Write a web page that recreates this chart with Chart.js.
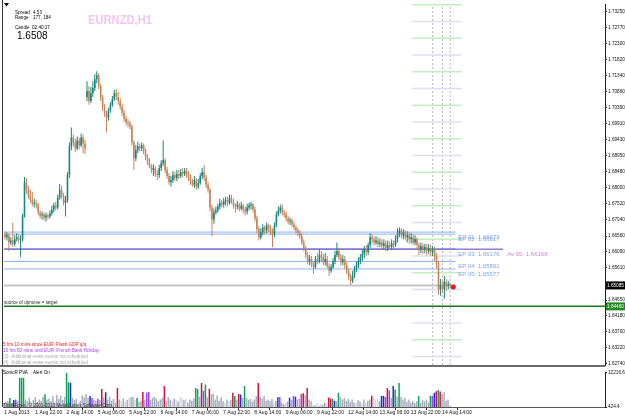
<!DOCTYPE html>
<html>
<head>
<meta charset="utf-8">
<script src="https://cdn.jsdelivr.net/npm/chart.js@4.4.1/dist/chart.umd.min.js"></script>
<style>
  body { margin:0; background:#fff; }
  #wrap { position:relative; width:625px; height:418px; overflow:hidden; background:#fff; }
  #cMain { position:absolute; left:0; top:0; }
  #cVol { position:absolute; left:0; top:369px; }
</style>
</head>
<body>
<div id="wrap">
  <canvas id="cMain" width="625" height="369"></canvas>
  <canvas id="cVol" width="625" height="49"></canvas>
</div>
<script>
// EURNZD H1, 1 Aug 06:00 .. 14 Aug 18:00 (one value per hourly bar)
const openP = [1.6661,1.6652,1.6658,1.6637,1.6643,1.6632,1.6646,1.6652,1.6643,1.6646,
1.6717,1.6817,1.6794,1.6776,1.6764,1.6752,1.6755,1.6750,1.6726,1.6717,
1.6720,1.6711,1.6717,1.6714,1.6723,1.6735,1.6747,1.6741,1.6770,1.6794,
1.6776,1.6755,1.6764,1.6838,1.6924,1.6950,1.6935,1.6918,1.6941,1.6927,
1.6950,1.6932,1.7071,1.7089,1.7059,1.7083,1.7098,1.7124,1.7136,1.7104,
1.7071,1.7042,1.7021,1.7009,1.7030,1.7048,1.7065,1.7083,1.7071,1.7059,
1.7042,1.7024,1.7006,1.6995,1.6992,1.6983,1.6935,1.6888,1.6912,1.6924,
1.6918,1.6927,1.6909,1.6891,1.6876,1.6865,1.6853,1.6859,1.6841,1.6838,
1.6859,1.6873,1.6882,1.6853,1.6835,1.6817,1.6823,1.6838,1.6829,1.6841,
1.6835,1.6847,1.6841,1.6850,1.6838,1.6832,1.6817,1.6809,1.6823,1.6803,
1.6814,1.6835,1.6847,1.6829,1.6809,1.6794,1.6741,1.6705,1.6726,1.6732,
1.6744,1.6755,1.6750,1.6761,1.6764,1.6755,1.6770,1.6758,1.6747,1.6744,
1.6750,1.6738,1.6747,1.6735,1.6729,1.6741,1.6747,1.6750,1.6735,1.6708,
1.6676,1.6652,1.6667,1.6682,1.6673,1.6688,1.6679,1.6667,1.6661,1.6688,
1.6720,1.6732,1.6741,1.6726,1.6720,1.6708,1.6699,1.6702,1.6691,1.6682,
1.6673,1.6664,1.6655,1.6637,1.6617,1.6599,1.6581,1.6587,1.6572,1.6563,
1.6587,1.6581,1.6599,1.6593,1.6578,1.6587,1.6566,1.6552,1.6563,1.6581,
1.6599,1.6611,1.6593,1.6578,1.6587,1.6569,1.6552,1.6534,1.6522,1.6540,
1.6558,1.6569,1.6581,1.6593,1.6602,1.6617,1.6608,1.6629,1.6652,1.6646,
1.6637,1.6643,1.6632,1.6637,1.6626,1.6634,1.6620,1.6629,1.6623,1.6634,
1.6629,1.6646,1.6661,1.6673,1.6658,1.6667,1.6652,1.6658,1.6646,1.6652,
1.6637,1.6646,1.6629,1.6617,1.6626,1.6617,1.6623,1.6611,1.6620,1.6608,
1.6614,1.6596,1.6572,1.6498,1.6510,1.6498,1.6519,1.6507,1.6513];
const highP = [1.6670,1.6667,1.6664,1.6652,1.6696,1.6658,1.6664,1.6661,1.6658,1.6723,
1.6832,1.6829,1.6806,1.6794,1.6788,1.6767,1.6764,1.6755,1.6732,1.6729,
1.6726,1.6726,1.6723,1.6732,1.6747,1.6755,1.6758,1.6779,1.6811,1.6806,
1.6785,1.6776,1.6847,1.6935,1.6980,1.6959,1.6947,1.6953,1.6950,1.6962,
1.6959,1.6944,1.7118,1.7104,1.7101,1.7118,1.7139,1.7148,1.7142,1.7109,
1.7077,1.7051,1.7030,1.7039,1.7056,1.7074,1.7092,1.7095,1.7086,1.7068,
1.7051,1.7033,1.7015,1.7006,1.7000,1.6989,1.6941,1.6927,1.6938,1.6932,
1.6935,1.6932,1.6918,1.6900,1.6888,1.6870,1.6870,1.6865,1.6853,1.6868,
1.6882,1.6941,1.6888,1.6862,1.6844,1.6835,1.6850,1.6847,1.6853,1.6853,
1.6856,1.6859,1.6859,1.6859,1.6850,1.6841,1.6826,1.6835,1.6829,1.6826,
1.6844,1.6859,1.6868,1.6838,1.6817,1.6800,1.6750,1.6738,1.6744,1.6752,
1.6767,1.6764,1.6770,1.6773,1.6773,1.6779,1.6779,1.6767,1.6755,1.6761,
1.6755,1.6758,1.6752,1.6744,1.6752,1.6755,1.6758,1.6755,1.6744,1.6717,
1.6685,1.6679,1.6691,1.6688,1.6696,1.6693,1.6688,1.6679,1.6696,1.6729,
1.6744,1.6750,1.6750,1.6735,1.6729,1.6717,1.6711,1.6708,1.6699,1.6688,
1.6679,1.6673,1.6664,1.6646,1.6626,1.6608,1.6599,1.6596,1.6581,1.6596,
1.6605,1.6617,1.6611,1.6602,1.6605,1.6596,1.6575,1.6572,1.6590,1.6611,
1.6637,1.6620,1.6602,1.6599,1.6596,1.6578,1.6560,1.6543,1.6552,1.6566,
1.6581,1.6593,1.6602,1.6614,1.6626,1.6629,1.6637,1.6664,1.6661,1.6655,
1.6655,1.6652,1.6649,1.6646,1.6646,1.6643,1.6643,1.6640,1.6646,1.6643,
1.6658,1.6679,1.6682,1.6679,1.6676,1.6673,1.6670,1.6667,1.6664,1.6661,
1.6658,1.6652,1.6637,1.6637,1.6634,1.6632,1.6632,1.6632,1.6629,1.6626,
1.6623,1.6605,1.6581,1.6528,1.6522,1.6537,1.6528,1.6522,1.6516];
const lowP = [1.6646,1.6643,1.6611,1.6629,1.6623,1.6626,1.6640,1.6634,1.6593,1.6640,
1.6711,1.6782,1.6767,1.6755,1.6744,1.6741,1.6738,1.6717,1.6708,1.6705,
1.6702,1.6699,1.6705,1.6708,1.6717,1.6726,1.6732,1.6735,1.6764,1.6767,
1.6747,1.6714,1.6755,1.6829,1.6912,1.6924,1.6906,1.6912,1.6915,1.6921,
1.6903,1.6900,1.7059,1.7048,1.7053,1.7071,1.7089,1.7112,1.7095,1.7059,
1.7030,1.7012,1.6965,1.7000,1.7024,1.7042,1.7059,1.7062,1.7048,1.7033,
1.7015,1.6997,1.6986,1.6980,1.6974,1.6927,1.6853,1.6879,1.6903,1.6909,
1.6909,1.6900,1.6882,1.6868,1.6859,1.6844,1.6835,1.6832,1.6823,1.6829,
1.6850,1.6865,1.6844,1.6826,1.6809,1.6803,1.6814,1.6820,1.6820,1.6826,
1.6829,1.6832,1.6835,1.6829,1.6820,1.6809,1.6803,1.6800,1.6794,1.6797,
1.6809,1.6826,1.6820,1.6800,1.6785,1.6729,1.6655,1.6693,1.6720,1.6726,
1.6735,1.6741,1.6741,1.6747,1.6744,1.6750,1.6752,1.6738,1.6726,1.6735,
1.6729,1.6732,1.6723,1.6717,1.6720,1.6732,1.6735,1.6726,1.6699,1.6664,
1.6643,1.6646,1.6658,1.6661,1.6664,1.6667,1.6658,1.6623,1.6652,1.6682,
1.6714,1.6723,1.6717,1.6711,1.6699,1.6691,1.6688,1.6682,1.6673,1.6664,
1.6655,1.6646,1.6629,1.6611,1.6590,1.6572,1.6569,1.6563,1.6543,1.6558,
1.6572,1.6575,1.6578,1.6569,1.6569,1.6558,1.6537,1.6546,1.6558,1.6572,
1.6593,1.6584,1.6569,1.6569,1.6558,1.6543,1.6525,1.6510,1.6516,1.6531,
1.6549,1.6560,1.6572,1.6581,1.6590,1.6596,1.6599,1.6620,1.6634,1.6629,
1.6629,1.6623,1.6623,1.6617,1.6614,1.6611,1.6611,1.6614,1.6614,1.6617,
1.6623,1.6637,1.6652,1.6649,1.6646,1.6643,1.6637,1.6634,1.6634,1.6629,
1.6629,1.6617,1.6599,1.6605,1.6602,1.6605,1.6599,1.6602,1.6596,1.6596,
1.6581,1.6560,1.6481,1.6478,1.6486,1.6469,1.6492,1.6498,1.6501];
const closeP = [1.6652,1.6658,1.6637,1.6643,1.6632,1.6646,1.6652,1.6643,1.6646,1.6717,
1.6817,1.6794,1.6776,1.6764,1.6752,1.6755,1.6750,1.6726,1.6717,1.6720,
1.6711,1.6717,1.6714,1.6723,1.6735,1.6747,1.6741,1.6770,1.6794,1.6776,
1.6755,1.6764,1.6838,1.6924,1.6950,1.6935,1.6918,1.6941,1.6927,1.6950,
1.6932,1.6918,1.7089,1.7059,1.7083,1.7098,1.7124,1.7136,1.7104,1.7071,
1.7042,1.7021,1.7009,1.7030,1.7048,1.7065,1.7083,1.7071,1.7059,1.7042,
1.7024,1.7006,1.6995,1.6992,1.6983,1.6935,1.6888,1.6912,1.6924,1.6918,
1.6927,1.6909,1.6891,1.6876,1.6865,1.6853,1.6859,1.6841,1.6838,1.6859,
1.6873,1.6882,1.6853,1.6835,1.6817,1.6823,1.6838,1.6829,1.6841,1.6835,
1.6847,1.6841,1.6850,1.6838,1.6832,1.6817,1.6809,1.6823,1.6803,1.6814,
1.6835,1.6847,1.6829,1.6809,1.6794,1.6741,1.6705,1.6726,1.6732,1.6744,
1.6755,1.6750,1.6761,1.6764,1.6755,1.6770,1.6758,1.6747,1.6744,1.6750,
1.6738,1.6747,1.6735,1.6729,1.6741,1.6747,1.6750,1.6735,1.6708,1.6676,
1.6652,1.6667,1.6682,1.6673,1.6688,1.6679,1.6667,1.6661,1.6688,1.6720,
1.6732,1.6741,1.6726,1.6720,1.6708,1.6699,1.6702,1.6691,1.6682,1.6673,
1.6664,1.6655,1.6637,1.6617,1.6599,1.6581,1.6587,1.6572,1.6563,1.6587,
1.6581,1.6599,1.6593,1.6578,1.6587,1.6566,1.6552,1.6563,1.6581,1.6599,
1.6611,1.6593,1.6578,1.6587,1.6569,1.6552,1.6534,1.6522,1.6540,1.6558,
1.6569,1.6581,1.6593,1.6602,1.6617,1.6608,1.6629,1.6652,1.6646,1.6637,
1.6643,1.6632,1.6637,1.6626,1.6634,1.6620,1.6629,1.6623,1.6634,1.6629,
1.6646,1.6661,1.6673,1.6658,1.6667,1.6652,1.6658,1.6646,1.6652,1.6637,
1.6646,1.6629,1.6617,1.6626,1.6617,1.6623,1.6611,1.6620,1.6608,1.6614,
1.6596,1.6572,1.6498,1.6510,1.6498,1.6519,1.6507,1.6513,1.6508];

// tick volume and SonicR PVA class (n normal, l low, g/r climax, b/p rising)
const volumes = [1800,2200,2400,3500,2000,2800,3000,2600,10500,10500,
10500,3000,2400,3600,2000,2800,3800,2200,3000,2600,
4000,4800,3000,3400,2400,4200,2000,4600,3200,4300,
2800,4000,12216.6,9000,8800,3500,2800,3200,2000,2600,
4500,3800,4900,3600,4200,3500,3000,2600,3300,2800,
6600,3800,5500,3000,4000,2600,3200,2000,7000,3000,
2500,3400,2200,2800,3600,3800,4000,2800,3500,2200,
2600,5600,3000,5300,5600,2800,3600,4000,3300,2400,
3000,3600,7700,2400,3800,3000,2600,3400,3000,2200,
4000,3600,2800,3300,2000,3000,2600,3400,7000,6600,
4000,8700,6000,8200,3800,6700,4800,5000,3000,4400,
2600,3800,2400,2000,3000,2400,2800,5300,4200,3000,
4900,4700,3600,7700,3500,2800,3200,2200,3000,4200,
8700,4000,3400,4200,2600,3000,2400,3200,2000,2600,
3800,3900,2000,1500,1800,2400,3600,2800,4200,4000,
3000,3300,4900,5200,4600,7000,3000,2400,1400,1000,
1800,800,1500,1200,2000,1400,3700,3400,3300,2600,
2400,5300,4000,3000,3600,2600,3200,2200,3000,2000,
1800,2800,2400,1600,3000,2000,2600,3000,4300,3500,
2800,3200,2400,4200,4300,4000,7000,6200,3600,7700,
6500,4000,8700,4000,3000,3600,2200,3000,2000,2600,
1800,2400,4200,2000,2800,2400,3000,2000,4200,4300,
5300,5900,6300,5800,4900,5600,2600,3000,800];
const volType = ('nnngnbpngg' + 'gnnnnnnnnn' + 'ngnnnnnnnn' + 'nnggbnnnln' + 'nnnnbpnnpn' +
  'rnbnnnnnrn' + 'lnlnlnnlgn' + 'nrnppnnnnn' + 'nnrnnnlnln' + 'llnlnnnngg' +
  'nrpgnrnnnn' + 'nnnlnlnrgn' + 'rbngnnnnnn' + 'rnnnnnnnln' + 'bpnnlnbnpb' +
  'nnprnrnnln' + 'lnlnnlrrgb' + 'ngnnnnnnnn' + 'lnnlnlnnrl' + 'llnbbprpnb' +
  'gngnnnnnnn' + 'nngnnnnngp' + 'brgrnnnnn').split('');

const timeLabels = ['1 Aug 2013','1 Aug 22:00','2 Aug 14:00','5 Aug 06:00','5 Aug 22:00','6 Aug 14:00',
  '7 Aug 06:00','7 Aug 22:00','8 Aug 14:00','9 Aug 06:00','9 Aug 22:00','12 Aug 14:00',
  '13 Aug 06:00','13 Aug 22:00','14 Aug 14:00'];
const timeTicks = [0,16,32,48,64,80,96,112,128,144,160,176,192,208,224];
const priceTicks = [1.7325,1.7277,1.7230,1.7182,1.7134,1.7086,1.7039,1.6991,1.6943,1.6895,1.6848,
  1.6800,1.6752,1.6704,1.6656,1.6609,1.6561,1.6465,1.6418,1.6370,1.6322,1.6274];
const volTicks = [424.4, 12216.6];

// levels drawn by the indicators
const epNames = ['EP 01','EP 02','EP 03','EP 04','EP 05'];
const epLevels = [1.66677,1.66617,1.66176,1.65801,1.65577];
const avName = 'Av 05', avLevel = 1.66168;
const bidPrice = 1.65085, targetLevel = 1.64460;
const levelsGreen = [1.7346,1.7246,1.7146,1.7046,1.6946,1.6846,1.6746,1.6646,1.6546,1.6446,1.6346];
const levelsLav = [1.7296,1.7196,1.7096,1.6996,1.6896,1.6796,1.6696,1.6596,1.6496,1.6396,1.6296];
const sessionBars = [219,224,228];
const signalBar = 229.6, signalPrice = 1.6504;

const newsLines = [
  ['5 hrs 10 mins since EUR: Flash GDP q/q', '#ff1c1c'],
  ['15 hrs 50 mins until EUR: French Bank Holiday', '#a23ee6'],
  ['(3)  Additional news events not scheduled', '#a9a9a9'],
  ['(4)  Additional news events not scheduled', '#a9a9a9']
];

const xMin = -0.5, xMax = 307.27;
const yMin = 1.6271, yMax = 1.73486;
const epEnd = 230.6, avEnd = 255.1, labelBar = 232.1, avLabelBar = 257.2;
const segFrom = 208.6, segTo = 233.7;

const FAM = '"Liberation Sans", Arial, sans-serif';
Chart.defaults.font.family = FAM;
const fnt = (s, w) => (w ? w + ' ' : '') + s + 'px ' + FAM;

const bull = '#16877f', bear = '#c8845a';
const candleColor = c => closeP[c.dataIndex] >= openP[c.dataIndex] ? bull : bear;

function seg(level, from, to, color, width, order) {
  return { type: 'line', data: [{ x: from, y: level }, { x: to, y: level }], borderColor: color,
    borderWidth: width, pointRadius: 0, fill: false, order: order || 5 };
}

const levelSets = [];
levelsGreen.forEach(v => levelSets.push(seg(v, segFrom, segTo, '#bdf0bd', 1.5, 8)));
levelsLav.forEach(v => levelSets.push(seg(v, segFrom, segTo, '#dedcf7', 1.5, 8)));
sessionBars.forEach(b => levelSets.push({ type: 'line', data: [{ x: b, y: yMin }, { x: b, y: yMax }],
  borderColor: '#b8b8b8', borderWidth: 1, borderDash: [2, 2], pointRadius: 0, order: 9 }));
epLevels.forEach(v => levelSets.push(seg(v, xMin, epEnd, '#8db2f0', 1, 6)));
levelSets.push(seg(avLevel, xMin, avEnd, '#5a3ec4', 1, 5));
levelSets.push(seg(bidPrice, xMin, epEnd, '#c6c6c6', 2, 7));
levelSets.push(seg(targetLevel, xMin, xMax, '#1c7a1c', 1.5, 4));

const mainOverlay = {
  id: 'mainOverlay',
  afterDraw(chart) {
    const { ctx, chartArea: a, scales: { x, y } } = chart;
    ctx.save();
    ctx.fillStyle = '#3a3a3a';
    ctx.fillRect(2, 0, 1, a.bottom);
    ctx.fillStyle = '#6c6c6c';
    ctx.fillRect(0, a.bottom, a.right, 2);

    ctx.fillStyle = '#000';
    ctx.beginPath(); ctx.moveTo(4, 3); ctx.lineTo(9, 3); ctx.lineTo(6.5, 6.5); ctx.closePath(); ctx.fill();

    ctx.textAlign = 'left'; ctx.textBaseline = 'middle';
    ctx.font = fnt(4.6);
    ctx.fillText('Spread', 15, 13); ctx.fillText('4.53', 33, 13);
    ctx.fillText('Range', 15, 18); ctx.fillText('177, 184', 33, 18);
    ctx.fillText('Candle', 15, 28); ctx.fillText('02:40:17', 32, 28);
    ctx.font = fnt(10);
    ctx.fillText(closeP[closeP.length - 1].toFixed(4), 17, 36);

    ctx.fillStyle = '#f1c6ef';
    ctx.font = fnt(13, 'bold');
    ctx.fillText('EURNZD,H1', 88, 20, 64);

    // EP / Av labels
    ctx.textBaseline = 'top';
    ctx.font = fnt(6);
    ctx.fillStyle = '#7ea6ea';
    epNames.forEach((n, i) => ctx.fillText(n + ': ' + epLevels[i].toFixed(5),
      x.getPixelForValue(labelBar), y.getPixelForValue(epLevels[i]) + 2));
    ctx.fillStyle = '#c88ad8';
    ctx.fillText(avName + ': ' + avLevel.toFixed(5), x.getPixelForValue(avLabelBar), y.getPixelForValue(avLevel) + 2);

    ctx.textBaseline = 'middle';
    ctx.font = fnt(4.6);
    ctx.fillStyle = '#2a2a2a';
    ctx.fillText('source of upmove = target', 4, y.getPixelForValue(targetLevel) - 4);

    newsLines.forEach((n, i) => {
      ctx.fillStyle = n[1];
      ctx.fillText(n[0], 3, 345 + i * 6);
    });

    // price boxes on the axis
    const box = (v, bg) => {
      const py = y.getPixelForValue(v);
      ctx.fillStyle = bg; ctx.fillRect(a.right + 1, py - 4, 19, 8);
      ctx.fillStyle = '#fff'; ctx.font = fnt(4.7);
      ctx.fillText(v.toFixed(5), a.right + 2, py);
    };
    box(bidPrice, '#000');
    box(targetLevel, '#1f8a1f');
    ctx.restore();
  }
};

new Chart(document.getElementById('cMain'), {
  type: 'bar',
  data: {
    datasets: [
      { type: 'bar', data: openP.map((o, i) => ({ x: i, y: [o, closeP[i]] })), backgroundColor: candleColor,
        barThickness: 1.6, inflateAmount: 0, grouped: false, minBarLength: 1, order: 0 },
      { type: 'bar', data: openP.map((o, i) => ({ x: i, y: [lowP[i], highP[i]] })), backgroundColor: candleColor,
        barThickness: 1, inflateAmount: 0, grouped: false, order: 1 },
      { type: 'line', data: [{ x: signalBar, y: signalPrice }], showLine: false, pointRadius: 2.5,
        pointBackgroundColor: '#e81c1c', pointBorderWidth: 0, order: 0 },
      ...levelSets
    ]
  },
  options: {
    responsive: false, animation: false,
    layout: { padding: { left: 3, top: 2, right: 0, bottom: 2 } },
    plugins: { legend: { display: false }, tooltip: { enabled: false } },
    scales: {
      x: { type: 'linear', min: xMin, max: xMax, offset: false, display: false },
      y: {
        position: 'right', min: yMin, max: yMax,
        afterBuildTicks: s => { s.ticks = priceTicks.map(v => ({ value: v })); },
        afterFit: s => { s.width = 20; },
        ticks: { autoSkip: false, font: { size: 4.7 }, color: '#111', padding: 1, callback: v => v.toFixed(5) },
        grid: { drawOnChartArea: false, tickLength: 2, color: '#222' },
        border: { color: '#222' }
      }
    }
  },
  plugins: [mainOverlay]
});

const volColors = { n: '#a7aebb', l: '#d3d7de', g: '#0fa05a', r: '#d3123e', b: '#1c30d2', p: '#a53ef0' };

const volOverlay = {
  id: 'volOverlay',
  afterDraw(chart) {
    const { ctx, chartArea: a } = chart;
    ctx.save();
    ctx.fillStyle = '#3a3a3a';
    ctx.fillRect(2, 0, 1, a.bottom);
    ctx.textAlign = 'left'; ctx.textBaseline = 'middle';
    ctx.font = fnt(4.6);
    ctx.fillStyle = '#000';
    ctx.fillText('SonicR PVA', 3, 4);
    ctx.fillText('Alert On', 33, 4);
    ctx.fillStyle = '#333';
    ctx.fillText('ThinkForex, \u00a9 2001-2013 MetaQuotes Software Corp.', 3, 36.5);
    ctx.restore();
  }
};

new Chart(document.getElementById('cVol'), {
  type: 'bar',
  data: {
    datasets: [{
      data: volumes.map((v, i) => ({ x: i, y: v })),
      backgroundColor: c => volColors[volType[c.dataIndex]] || volColors.n,
      barThickness: 1.5, inflateAmount: 0, grouped: false
    }]
  },
  options: {
    responsive: false, animation: false,
    layout: { padding: { left: 3, top: 3, right: 0, bottom: 0 } },
    plugins: { legend: { display: false }, tooltip: { enabled: false } },
    scales: {
      x: {
        type: 'linear', min: xMin, max: xMax, offset: false, position: 'bottom',
        afterBuildTicks: s => { s.ticks = timeTicks.map(v => ({ value: v })); },
        afterFit: s => { s.height = 11; },
        ticks: { autoSkip: false, maxRotation: 0, align: 'start', font: { size: 5 }, color: '#111', padding: 0,
          callback: (v, i) => timeLabels[i] },
        grid: { drawOnChartArea: false, tickLength: 3, color: '#333' },
        border: { color: '#555' }
      },
      y: {
        position: 'right', min: volTicks[0], max: volTicks[1],
        afterBuildTicks: s => { s.ticks = volTicks.map(v => ({ value: v })); },
        afterFit: s => { s.width = 20; },
        ticks: { autoSkip: false, font: { size: 4.7 }, color: '#111', padding: 1, callback: v => v.toFixed(1) },
        grid: { drawOnChartArea: false, tickLength: 2, color: '#222' },
        border: { color: '#222' }
      }
    }
  },
  plugins: [volOverlay]
});
</script>
</body>
</html>
